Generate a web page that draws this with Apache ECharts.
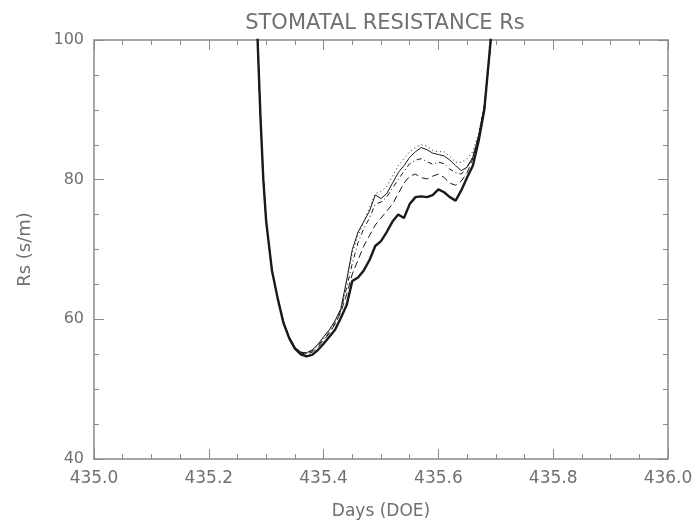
<!DOCTYPE html>
<html>
<head>
<meta charset="utf-8">
<script src="https://cdn.jsdelivr.net/npm/echarts@6/dist/echarts.min.js"></script>
<style>
  html, body { margin: 0; padding: 0; background: #fff; }
  #chart { width: 699px; height: 525px; }
</style>
</head>
<body>
<div id="chart"></div>
<script>
// time axis (day of experiment)
const days = [
  435.280, 435.285, 435.290, 435.295, 435.300, 435.310, 435.320, 435.330, 435.340, 435.350,
  435.360, 435.370, 435.380, 435.390, 435.400, 435.410, 435.420, 435.430, 435.440, 435.450,
  435.460, 435.470, 435.480, 435.490, 435.500, 435.510, 435.520, 435.530, 435.540, 435.550,
  435.560, 435.570, 435.580, 435.590, 435.600, 435.610, 435.620, 435.630, 435.640, 435.650,
  435.660, 435.670, 435.680, 435.690, 435.695, 435.700
];

// Rs (s/m) for each run
const rsThick = [
  108, 100, 89, 80, 74, 67, 63, 59.5, 57.3, 55.8,
  55.0, 54.7, 54.9, 55.6, 56.5, 57.5, 58.5, 60.2, 62, 65.5,
  66, 67, 68.5, 70.5, 71.2, 72.5, 74, 75, 74.5, 76.5,
  77.5, 77.6, 77.5, 77.8, 78.6, 78.2, 77.5, 77, 78.5, 80.3,
  82, 85.5, 90, 99, 104, 110
];
const rsSolid = [
  108, 100, 89, 80, 74, 67, 63, 59.7, 57.5, 56.0,
  55.3, 55.2, 55.6, 56.4, 57.5, 58.5, 59.8, 61.5, 65.5, 70,
  72.5, 74, 75.5, 77.8, 77.3, 78, 79.5, 81, 82, 83.2,
  84, 84.6, 84.3, 83.8, 83.6, 83.4, 82.8, 82, 81.3, 81.8,
  83.2, 86.3, 90.5, 98.5, 103.5, 110
];
const rsDashed = [
  108, 100, 89, 80, 74, 67, 63, 59.6, 57.4, 55.9,
  55.2, 55.0, 55.3, 56.0, 57, 58, 59.3, 61, 63.5, 66.5,
  68.5, 70.5, 72, 73.5, 74.5, 75.5, 76.5, 78, 79.5, 80.5,
  80.8, 80.3, 80.1, 80.5, 80.8, 80.3, 79.5, 79.2, 79.8, 81,
  83, 86, 90.3, 98.7, 103.8, 110
];
const rsDotted = [
  108, 100, 89, 80, 74, 67, 63, 59.7, 57.5, 56.0,
  55.3, 55.2, 55.6, 56.4, 57.5, 58.5, 59.8, 61.5, 65.5, 69.5,
  72, 74, 76, 78, 78.3, 79, 80.5, 82, 83, 84,
  84.6, 85, 84.8, 84.2, 84, 84, 83.3, 82.5, 82.5, 83,
  84, 86.6, 90.7, 98.5, 103.5, 110
];
const rsDashDot = [
  108, 100, 89, 80, 74, 67, 63, 59.7, 57.5, 56.0,
  55.3, 55.1, 55.5, 56.2, 57.2, 58.2, 59.5, 61.2, 64.5, 68,
  71, 73, 74.5, 76.5, 76.8, 77.5, 78.8, 80, 81.2, 82.3,
  82.8, 83, 82.6, 82.2, 82.5, 82.3, 81.5, 81, 80.8, 81.8,
  83.3, 86.2, 90.5, 98.6, 103.6, 110
];

const xTicks = [435.0, 435.2, 435.4, 435.6, 435.8, 436.0];
const yTicks = [40, 60, 80, 100];

const axisColor = '#8a8a8a';
const textColor = '#707070';
const font = 'DejaVu Sans';

const pair = arr => days.map((d, i) => [d, arr[i]]);

const baseX = {
  type: 'value',
  min: xTicks[0],
  max: xTicks[xTicks.length - 1],
  interval: 0.2,
  axisLine: { show: true, onZero: false, lineStyle: { color: axisColor, width: 1.5 } },
  axisTick: { show: true, inside: true, length: 10, lineStyle: { color: axisColor } },
  minorTick: { show: true, splitNumber: 4, length: 5, lineStyle: { color: axisColor } },
  splitLine: { show: false }
};
const baseY = {
  type: 'value',
  min: yTicks[0],
  max: yTicks[yTicks.length - 1],
  interval: 20,
  axisLine: { show: true, onZero: false, lineStyle: { color: axisColor, width: 1.5 } },
  axisTick: { show: true, inside: true, length: 10, lineStyle: { color: axisColor } },
  minorTick: { show: true, splitNumber: 4, length: 5, lineStyle: { color: axisColor } },
  splitLine: { show: false }
};

const lineSeries = (name, arr, width, type) => ({
  name,
  type: 'line',
  data: pair(arr),
  showSymbol: false,
  symbol: 'none',
  clip: true,
  lineStyle: { color: '#1a1a1a', width, type },
  z: width > 1.5 ? 3 : 2
});

const chart = echarts.init(document.getElementById('chart'));
chart.setOption({
  animation: false,
  backgroundColor: '#fff',
  title: {
    text: 'STOMATAL RESISTANCE Rs',
    left: 380,
    top: 8,
    textAlign: 'center',
    textStyle: { fontFamily: font, fontSize: 21, fontWeight: 'normal', color: textColor }
  },
  grid: { left: 94, right: 31, top: 40, bottom: 63 },
  xAxis: [
    Object.assign({}, baseX, {
      position: 'bottom',
      name: 'Days (DOE)',
      nameLocation: 'middle',
      nameGap: 44,
      nameTextStyle: { fontFamily: font, fontSize: 17, color: textColor },
      axisLabel: {
        margin: 11,
        fontFamily: font, fontSize: 17, color: textColor,
        formatter: v => v.toFixed(1)
      }
    }),
    Object.assign({}, baseX, { position: 'top', axisLabel: { show: false } })
  ],
  yAxis: [
    Object.assign({}, baseY, {
      position: 'left',
      name: 'Rs (s/m)',
      nameLocation: 'middle',
      nameGap: 60,
      nameTextStyle: { fontFamily: font, fontSize: 18, color: textColor },
      axisLabel: { margin: 10, fontFamily: font, fontSize: 16, color: textColor }
    }),
    Object.assign({}, baseY, { position: 'right', axisLabel: { show: false } })
  ],
  series: [
    lineSeries('dotted', rsDotted, 1, [1, 3]),
    lineSeries('dashdot', rsDashDot, 1, [5, 3, 1, 3]),
    lineSeries('dashed', rsDashed, 1, [7, 4]),
    lineSeries('solid', rsSolid, 1, 'solid'),
    lineSeries('thick', rsThick, 2.4, 'solid')
  ]
});
</script>
</body>
</html>
